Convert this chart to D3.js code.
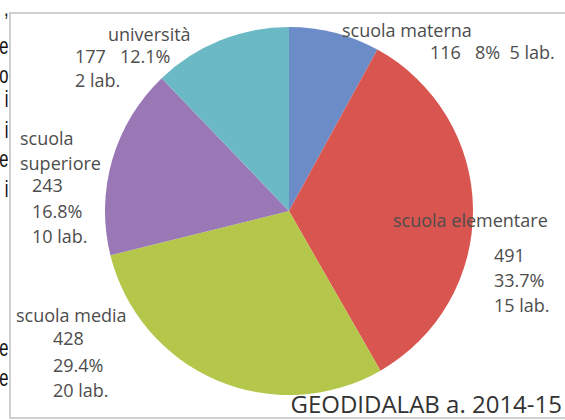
<!DOCTYPE html>
<html>
<head>
    <meta charset="utf-8">
    <title>GEODIDALAB 2014-15</title>
    <script src="https://d3js.org/d3.v7.min.js"></script>
    <style>
        body { margin: 0; padding: 0; background: #fff; }
        .lbl { font-family: "Open Sans", sans-serif; font-size: 18px; fill: #4d4d4d; }
    </style>
</head>
<body>
    <svg id="svg" width="565" height="420"></svg>

    <script>
        // Data (clockwise from 12 o'clock).
        const categories = ["scuola materna", "scuola elementare", "scuola media", "scuola superiore", "università"];
        const students = [116, 491, 428, 243, 177];
        const percents = ["8%", "33.7%", "29.4%", "16.8%", "12.1%"];
        const labs = ["5 lab.", "15 lab.", "20 lab.", "10 lab.", "2 lab."];
        const colors = ["#6b8cc6", "#d9554f", "#b4c74b", "#9a78b5", "#6cb9c6"];

        // Letters of the surrounding document cut off at the left edge.
        const marginLetters = [",", "e", "o", "i", "i", "e", "i", "e", "e"];
        const marginY = [16, 54, 83, 107, 138, 167, 197, 356, 386];

        const svg = d3.select("#svg");

        // Cropped text column on the left (narrowed glyphs).
        svg.append("g")
            .attr("transform", "scale(0.72,1)")
            .selectAll("text")
            .data(marginLetters)
            .enter().append("text")
                .attr("x", 8.5 / 0.72)
                .attr("y", (d, i) => marginY[i])
                .attr("text-anchor", "end")
                .attr("font-family", "Liberation Sans, Arial, sans-serif")
                .attr("font-size", 23)
                .attr("fill", "#111")
                .text(d => d);

        // Chart frame.
        svg.append("rect")
            .attr("x", 10).attr("y", 13)
            .attr("width", 600).attr("height", 405)
            .attr("fill", "#fff")
            .attr("stroke", "#cfcfcf")
            .attr("stroke-width", 2);

        // Pie.
        const cx = 289, cy = 211, radius = 184;
        const pie = d3.pie().sort(null).value(d => d);
        const arc = d3.arc().innerRadius(0).outerRadius(radius);

        const g = svg.append("g")
            .attr("transform", `translate(${cx},${cy})`);

        g.selectAll("path")
            .data(pie(students))
            .enter().append("path")
                .attr("d", arc)
                .attr("fill", (d, i) => colors[i]);

        // Labels (hand placed, like the original).
        const labelLines = [
            [["scuola materna", 342, 37], [`${students[0]}   ${percents[0]}  ${labs[0]}`, 430, 59]],
            [["scuola elementare", 393, 227], [`${students[1]}`, 494, 262], [percents[1], 494, 287], [labs[1], 494, 312]],
            [["scuola media", 16, 322], [`${students[2]}`, 53, 345], [percents[2], 53, 372], [labs[2], 53, 397]],
            [["scuola", 20, 145], ["superiore", 20, 170], [`${students[3]}`, 32, 192], [percents[3], 32, 218], [labs[3], 32, 243]],
            [["università", 108, 41], [`${students[4]}   ${percents[4]}`, 75, 63], [labs[4], 75, 87]]
        ];

        const lg = svg.append("g");
        labelLines.forEach(lines => {
            lines.forEach(([t, x, y]) => {
                lg.append("text")
                    .attr("class", "lbl")
                    .attr("x", x).attr("y", y)
                    .style("white-space", "pre")
                    .text(t);
            });
        });

        // Source note.
        svg.append("text")
            .attr("x", 562).attr("y", 413)
            .attr("text-anchor", "end")
            .attr("font-family", "Open Sans, sans-serif")
            .attr("font-size", 24)
            .attr("fill", "#333")
            .text("GEODIDALAB a. 2014-15");
    </script>
</body>
</html>
